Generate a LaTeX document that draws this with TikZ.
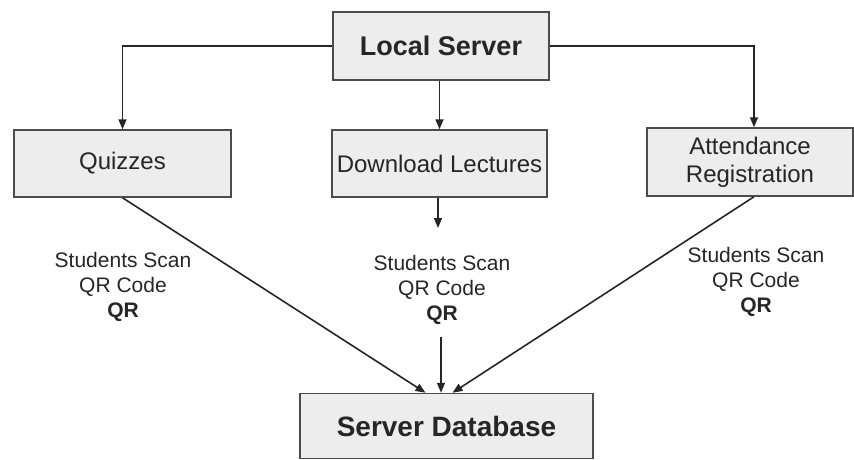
\documentclass[tikz,border=0pt]{standalone}
\usepackage{fontspec}
\setmainfont{Liberation Sans}
\usetikzlibrary{arrows.meta}

\tikzset{
	block/.style={draw=black!70, fill=black!7, line width=1.5pt, inner sep=0pt, align=center, text=black!85},
	flow/.style={-{Triangle[length=10pt,width=8pt]}, line width=1.6pt, black!85},
	scanlabel/.style={align=center, text=black!85, font=\fontsize{21}{25}\selectfont}
}

\begin{document}
\begin{tikzpicture}[x=1pt,y=-1pt]
		\useasboundingbox (0,0) rectangle (854,460);
		\node[block, minimum width=216pt, minimum height=68pt, font=\fontsize{27}{30}\selectfont\bfseries] (local) at (441,46) {Local Server};
		\node[block, minimum width=217pt, minimum height=67pt, font=\fontsize{24}{28}\selectfont] (quiz) at (122.5,163.5) {Quizzes};
		\node[block, minimum width=215pt, minimum height=67pt, font=\fontsize{24}{28}\selectfont] (down) at (439.5,163.5) {Download Lectures};
		\node[block, minimum width=206pt, minimum height=68pt, font=\fontsize{24}{28}\selectfont] (att) at (750,162) {Attendance\\Registration};
		\node[block, minimum width=293pt, minimum height=65pt, font=\fontsize{28}{30}\selectfont\bfseries] (db) at (446.5,426) {Server Database};
		\coordinate (dl) at (438,228);
		\coordinate (qr) at (441,337);
		\draw[flow] (local.west) -| (quiz.north);
		\draw[flow] (local.east) -| ([xshift=4pt]att.north);
		\draw[flow] (local.south -| down.north) -- (down.north);
		\draw[flow] (down.south -| dl) -- (dl);
		\draw[flow] (qr) -- (qr |- db.north);
		\draw[flow] (quiz.south) -- ([xshift=-21pt]db.north);
		\draw[flow] ([xshift=4pt]att.south) -- ([xshift=6pt]db.north);
		\node[scanlabel] (lq) at (123,287) {Students Scan\\QR Code\\\textbf{QR}};
		\node[scanlabel] (ld) at (442,290) {Students Scan\\QR Code\\\textbf{QR}};
		\node[scanlabel] (la) at (756,282) {Students Scan\\QR Code\\\textbf{QR}};
	\end{tikzpicture}
\end{document}
